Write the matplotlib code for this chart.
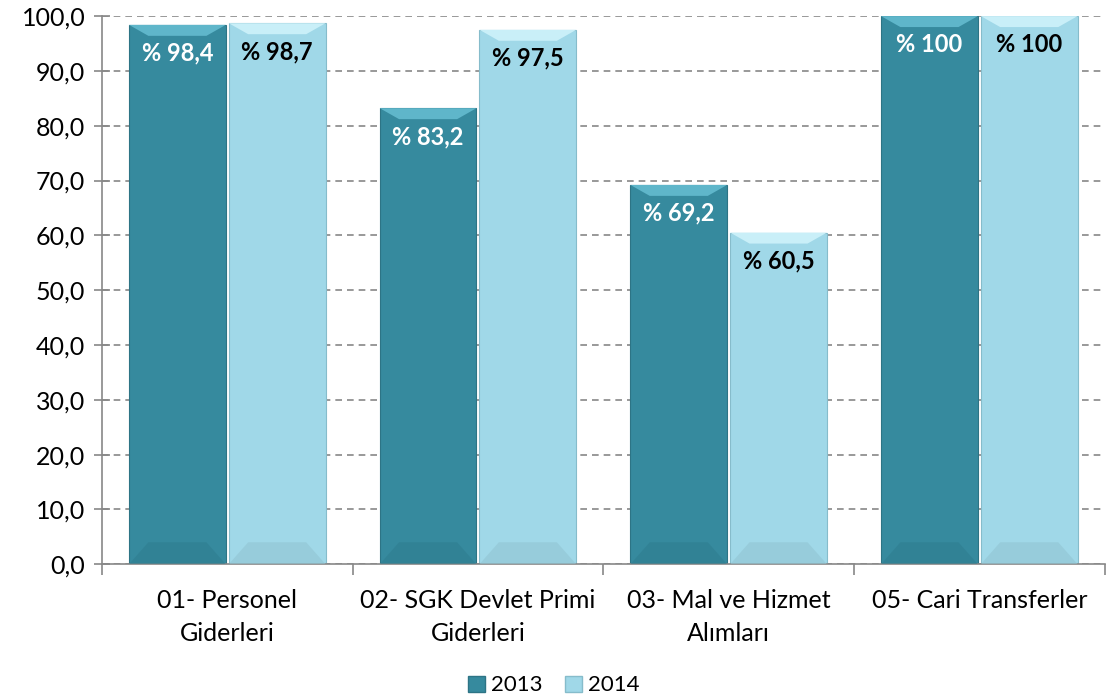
import numpy as np
import matplotlib.pyplot as plt
from matplotlib.patches import Polygon, Patch

plt.rcParams['font.family'] = ['Lato', 'DejaVu Sans']

categories = ['01- Personel\nGiderleri', '02- SGK Devlet Primi\nGiderleri',
              '03- Mal ve Hizmet\nAlımları', '05- Cari Transferler']
years = ['2013', '2014']
vals_2013 = [98.4, 83.2, 69.2, 100.0]
vals_2014 = [98.7, 97.5, 60.5, 100.0]
labels_2013 = ['% 98,4', '% 83,2', '% 69,2', '% 100']
labels_2014 = ['% 98,7', '% 97,5', '% 60,5', '% 100']

c13 = '#368a9e'
c14 = '#a0d8e8'
top13, bot13 = '#5fb6ca', '#2f7d90'
top14, bot14 = '#c9eff8', '#92c5d3'

fig = plt.figure(figsize=(11.08, 7.0), dpi=100)
ax = fig.add_axes([0.092, 0.194, 0.905, 0.783])

x = np.arange(len(categories))
w = 0.386
gap = 0.012


def bevel(ax, bar, top_c, bot_c):
    # fake bevel: lighter top edge, darker bottom edge
    x0 = bar.get_x()
    x1 = x0 + bar.get_width()
    h = bar.get_height()
    bw = bar.get_width() * 0.2
    ax.add_patch(Polygon([(x0, h), (x1, h), (x1 - bw, h - 2.0), (x0 + bw, h - 2.0)],
                         closed=True, fc=top_c, ec='none', zorder=3))
    ax.add_patch(Polygon([(x0, 0), (x1, 0), (x1 - bw, 4.0), (x0 + bw, 4.0)],
                         closed=True, fc=bot_c, ec='none', zorder=3, alpha=0.6))


b1 = ax.bar(x - w / 2 - gap / 2, vals_2013, w, color=c13, zorder=2,
            edgecolor='#2d7485', linewidth=0.8)
b2 = ax.bar(x + w / 2 + gap / 2, vals_2014, w, color=c14, zorder=2,
            edgecolor='#86bccb', linewidth=0.8)
for b in b1:
    bevel(ax, b, top13, bot13)
for b in b2:
    bevel(ax, b, top14, bot14)

for b, t in zip(b1, labels_2013):
    ax.text(b.get_x() + b.get_width() / 2, b.get_height() - 5.2, t, ha='center', va='center',
            color='white', fontsize=17, fontweight='bold', zorder=4)
for b, t in zip(b2, labels_2014):
    ax.text(b.get_x() + b.get_width() / 2, b.get_height() - 5.2, t, ha='center', va='center',
            color='black', fontsize=17, fontweight='bold', zorder=4)

ax.set_ylim(0, 100)
ax.set_xlim(-0.5, len(categories) - 0.5)
ax.set_yticks(np.arange(0, 101, 10))
ax.set_yticklabels([f'{v:.1f}'.replace('.', ',') for v in np.arange(0, 101, 10)], fontsize=18)
ax.yaxis.grid(True, linestyle=(0, (4, 3)), color='#888888', linewidth=1.2, zorder=0)
ax.set_axisbelow(True)

ax.set_xticks(np.arange(-0.5, len(categories), 1.0))
ax.set_xticklabels([])
ax.set_xticks(x, minor=True)
ax.set_xticklabels(categories, minor=True, fontsize=18, linespacing=1.5)
ax.tick_params(axis='x', which='minor', length=0, pad=18)
ax.tick_params(axis='x', which='major', length=8, color='#888888', width=1.2)
ax.tick_params(axis='y', length=12, direction='inout', color='#888888', width=1.2, pad=6)

for s in ['top', 'right']:
    ax.spines[s].set_visible(False)
for s in ['left', 'bottom']:
    ax.spines[s].set_color('#888888')
    ax.spines[s].set_linewidth(1.2)

handles = [Patch(facecolor=c13, edgecolor='#2d7485'), Patch(facecolor=c14, edgecolor='#86bccb')]
fig.legend(handles, years, loc='lower center', ncol=2, frameon=False, fontsize=16,
           bbox_to_anchor=(0.5, -0.022), handlelength=0.75, handleheight=0.75,
           handletextpad=0.3, columnspacing=1.0)

fig.savefig('out.png', dpi=100)
